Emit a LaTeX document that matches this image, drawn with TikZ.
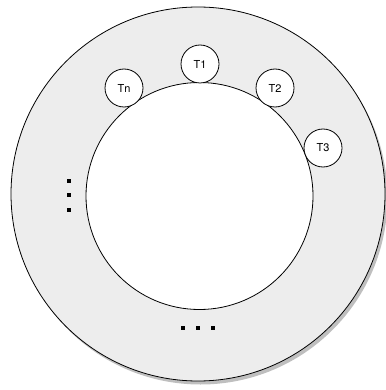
\documentclass[tikz,border=0pt]{standalone}
\usepackage{fontspec}
\setmainfont{TeX Gyre Heros}
\usetikzlibrary{shadows}

\begin{document}
\begin{tikzpicture}[x=1pt, y=-1pt, line width=0.8pt, every node/.style={font=\fontsize{11}{13}\selectfont}]
  \useasboundingbox (0,0) rectangle (385,390);
  \node[draw, circle, fill=black!7, minimum size=374pt, drop shadow={shadow xshift=2.5pt, shadow yshift=-3.5pt, opacity=0.5}] (ring) at (198,194) {};
  \node[draw, circle, fill=white, minimum size=227pt] (hub) at (199.5,196) {};
  \node[draw, circle, fill=white, minimum size=38pt] (t1) at (200,64) {T1};
  \node[draw, circle, fill=white, minimum size=38pt] (t2) at (275,88) {T2};
  \node[draw, circle, fill=white, minimum size=38pt] (t3) at (323,148) {T3};
  \node[draw, circle, fill=white, minimum size=38pt] (tn) at (124,88) {Tn};
  \foreach \y in {181,195,210}
    \fill (69,\y) +(-1.8,-1.8) rectangle +(1.8,1.8);
  \foreach \x in {183,198,213}
    \fill (\x,328) +(-1.8,-1.8) rectangle +(1.8,1.8);
\end{tikzpicture}
\end{document}
